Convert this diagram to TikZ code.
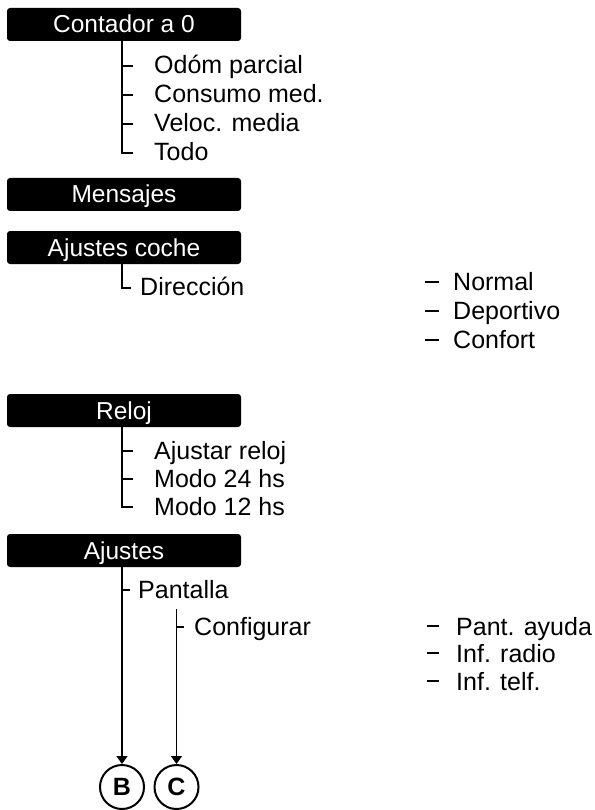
\documentclass[tikz,border=0pt]{standalone}
\usepackage{fontspec}
\setmainfont{Liberation Sans}
\usetikzlibrary{arrows.meta}

\tikzset{
  menubox/.style={fill=black, text=white, rounded corners=3pt,
    minimum width=234pt, minimum height=33pt, inner sep=0pt,
    text height=17pt, text depth=0pt, font=\fontsize{24.5}{28}\selectfont},
  entry/.style={anchor=base west, inner sep=0pt, font=\fontsize{25}{28}\selectfont},
  tree/.style={line width=1.4pt},
  bullet/.style={line width=1.4pt},
  endcircle/.style={circle, draw, line width=2pt, minimum size=44pt, inner sep=0pt,
    font=\fontsize{25}{28}\selectfont\bfseries},
}

\begin{document}
\begin{tikzpicture}[x=1pt, y=-1pt]
  \useasboundingbox (0,0) rectangle (594,810);

  % ── Contador a 0 ──
  \node[menubox] (contador) at (124,24.5) {Contador a 0};
  \foreach \name/\yy/\txt in {
    odom/74/{Odóm parcial},
    consumo/103/{Consumo med.},
    veloc/132/{Veloc. media},
    todo/161/{Todo}}
    \node[entry] (\name) at (154,\yy) {\txt};
  \foreach \name in {odom, consumo, veloc}
    \draw[tree] ([xshift=-32pt, yshift=8pt]\name.base west) -- ++(11,0);
  \draw[tree] ([xshift=-2pt]contador.south) |- ([xshift=-21pt, yshift=8pt]todo.base west);

  % ── Mensajes ──
  \node[menubox] (mensajes) at (124,194.5) {Mensajes};

  % ── Ajustes coche ──
  \node[menubox] (coche) at (124,247.5) {Ajustes coche};
  \node[entry] (direccion) at (140,295) {Dirección};
  \draw[tree] ([xshift=-2pt]coche.south) |- ([xshift=-9pt, yshift=7pt]direccion.base west);
  \foreach \name/\yy/\txt in {
    normal/290/Normal,
    deportivo/319/Deportivo,
    confort/348/Confort} {
    \node[entry] (\name) at (453,\yy) {\txt};
    \draw[bullet] ([xshift=-28pt, yshift=8pt]\name.base west) -- ++(14,0);
  }

  % ── Reloj ──
  \node[menubox] (reloj) at (124,410.5) {Reloj};
  \foreach \name/\yy/\txt in {
    ajustar/459/{Ajustar reloj},
    modoA/487/{Modo 24 hs},
    modoB/515/{Modo 12 hs}}
    \node[entry] (\name) at (154,\yy) {\txt};
  \foreach \name in {ajustar, modoA}
    \draw[tree] ([xshift=-32pt, yshift=8pt]\name.base west) -- ++(11,0);
  \draw[tree] ([xshift=-2pt]reloj.south) |- ([xshift=-21pt, yshift=8pt]modoB.base west);

  % ── Ajustes ──
  \node[menubox] (ajustes) at (124,550.5) {Ajustes};
  \node[entry] (pantalla) at (138,598) {Pantalla};
  \node[entry] (configurar) at (194,635) {Configurar};
  \node[endcircle] (circB) at (122,787) {B};
  \node[endcircle] (circC) at (176.5,787) {C};
  \draw[tree] ([xshift=-16pt, yshift=8pt]pantalla.base west) -- ++(8,0);
  \coordinate (cfgtop) at ([xshift=38.5pt, yshift=-11pt]pantalla.base west);
  \draw[tree] ([xshift=-17.5pt, yshift=8pt]configurar.base west) -- ++(7.5,0);
  \draw[tree, -{Triangle[length=8pt, width=11pt]}] (ajustes.south -| circB) -- (circB);
  \draw[tree, -{Triangle[length=8pt, width=11pt]}] (cfgtop) -- (cfgtop |- circC.north);
  \foreach \name/\yy/\txt in {
    pantayuda/635/{Pant. ayuda},
    infradio/662/{Inf. radio},
    inftelf/690/{Inf. telf.}} {
    \node[entry] (\name) at (456,\yy) {\txt};
    \draw[bullet] ([xshift=-29pt, yshift=9pt]\name.base west) -- ++(12,0);
  }
\end{tikzpicture}
\end{document}
